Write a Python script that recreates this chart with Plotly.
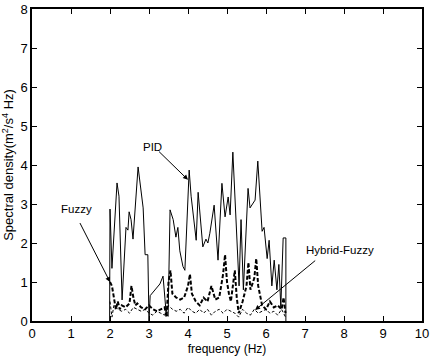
import plotly.graph_objects as go

# PID (solid)
pid_x = [1.99, 2.0, 2.05, 2.18, 2.23, 2.31, 2.41, 2.46, 2.49, 2.54, 2.59, 2.72, 2.85, 2.9, 2.97, 3.0,
         3.0, 3.03, 3.15, 3.28, 3.36, 3.44, 3.49, 3.54, 3.62, 3.69, 3.74, 3.79, 3.87, 3.92, 4.03, 4.08,
         4.21, 4.26, 4.38, 4.46, 4.51, 4.56, 4.67, 4.77, 4.87, 4.95, 5.03, 5.08, 5.15, 5.31, 5.36, 5.42,
         5.54, 5.59, 5.72, 5.79, 5.9, 5.95, 6.03, 6.08, 6.15, 6.21, 6.28, 6.33, 6.38, 6.44, 6.51, 6.51]
pid_y = [0.0, 2.87, 1.35, 3.54, 3.2, 0.54, 2.4, 2.33, 2.8, 2.6, 2.1, 3.95, 2.9, 1.7, 1.7, 0.0,
         0.0, 0.65, 0.8, 0.95, 1.15, 0.2, 0.12, 2.85, 2.6, 2.15, 2.4, 1.8, 1.4, 1.3, 3.87, 3.2,
         2.07, 3.3, 1.9, 2.1, 2.0, 2.25, 2.97, 1.56, 3.53, 2.67, 3.18, 2.72, 4.33, 0.9, 2.6, 0.8,
         3.4, 2.9, 3.1, 4.1, 2.3, 2.4, 1.6, 2.07, 0.9, 1.56, 0.8, 1.45, 0.36, 2.13, 2.13, 0.0]

# Fuzzy (thick dashed)
fz_x = [2.0, 2.05, 2.1, 2.15, 2.2, 2.25, 2.3, 2.4, 2.5, 2.55, 2.6, 2.65, 2.7, 2.8, 2.9, 3.0, 3.1,
        3.2, 3.3, 3.4, 3.45, 3.5, 3.55, 3.6, 3.7, 3.8, 3.9, 4.0, 4.05, 4.1, 4.2, 4.3, 4.4, 4.5, 4.6,
        4.65, 4.7, 4.8, 4.9, 4.95, 5.0, 5.05, 5.1, 5.2, 5.25, 5.3, 5.4, 5.5, 5.55, 5.6, 5.7, 5.75,
        5.8, 5.9, 6.0, 6.1, 6.2, 6.3, 6.4, 6.45, 6.5]
fz_y = [1.0, 0.9, 0.6, 0.3, 0.5, 0.3, 0.4, 0.35, 0.45, 0.9, 0.6, 0.4, 0.45, 0.35, 0.3, 0.4, 0.3,
        0.25, 0.3, 0.35, 0.1, 1.0, 1.3, 0.7, 0.6, 0.55, 0.6, 0.9, 1.2, 0.7, 0.5, 0.4, 0.6, 0.5, 0.9,
        0.7, 0.55, 0.6, 1.2, 1.7, 1.0, 0.7, 0.5, 1.3, 0.6, 0.2, 0.5, 0.9, 1.5, 0.8, 1.1, 1.6,
        0.9, 0.4, 0.3, 0.5, 0.35, 0.4, 0.3, 0.6, 0.2]

# Hybrid-Fuzzy (thin dashed)
hf_x = [2.0, 2.05, 2.1, 2.2, 2.3, 2.4, 2.5, 2.6, 2.7, 2.8, 2.9, 3.0, 3.1, 3.2, 3.3, 3.4, 3.5, 3.6,
        3.7, 3.8, 3.9, 4.0, 4.1, 4.2, 4.3, 4.4, 4.5, 4.6, 4.7, 4.8, 4.9, 5.0, 5.1, 5.2, 5.3, 5.4,
        5.5, 5.6, 5.7, 5.8, 5.9, 6.0, 6.1, 6.2, 6.3, 6.4, 6.5]
hf_y = [0.5, 0.1, 0.4, 0.3, 0.25, 0.3, 0.2, 0.35, 0.3, 0.25, 0.3, 0.2, 0.15, 0.25, 0.2, 0.15, 0.4, 0.3,
        0.25, 0.3, 0.2, 0.35, 0.25, 0.2, 0.3, 0.2, 0.3, 0.15, 0.25, 0.3, 0.2, 0.3, 0.25, 0.2, 0.1, 0.3,
        0.2, 0.15, 0.3, 0.2, 0.25, 0.3, 0.2, 0.25, 0.15, 0.3, 0.1]

x_ticks = list(range(0, 11))
y_ticks = list(range(0, 9))

fig = go.Figure()
fig.add_trace(go.Scatter(x=hf_x, y=hf_y, mode="lines", line=dict(color="black", width=1, dash="3px,2px"),
                         name="Hybrid-Fuzzy"))
fig.add_trace(go.Scatter(x=fz_x, y=fz_y, mode="lines", line=dict(color="black", width=2, dash="4px,2px"),
                         name="Fuzzy"))
fig.add_trace(go.Scatter(x=pid_x, y=pid_y, mode="lines", line=dict(color="black", width=1),
                         name="PID"))

family = "Liberation Sans, Arial, sans-serif"
font = dict(family=family, size=13, color="black")
afont = dict(family=family, size=11.5, color="black")
arrow = dict(showarrow=True, arrowhead=2, arrowsize=1, arrowwidth=1, arrowcolor="black",
             axref="x", ayref="y", xref="x", yref="y")
fig.add_annotation(x=4.0, y=3.62, ax=3.22, ay=4.38, text="", **arrow)
fig.add_annotation(x=3.1, y=4.46, text="PID", showarrow=False, font=afont)
fig.add_annotation(x=2.0, y=1.0, ax=1.21, ay=2.55, text="", **arrow)
fig.add_annotation(x=1.13, y=2.87, text="Fuzzy", showarrow=False, font=afont)
fig.add_annotation(x=5.72, y=0.28, ax=7.3, ay=1.58, text="", **arrow)
fig.add_annotation(x=7.9, y=1.82, text="Hybrid-Fuzzy", showarrow=False, font=afont)

axis_common = dict(showline=True, linecolor="black", linewidth=1.5, mirror="ticks", ticks="inside",
                   ticklen=5, tickcolor="black", showgrid=False, zeroline=False, tickfont=font,
                   automargin=False)
fig.update_xaxes(range=[0, 10], tickvals=x_ticks,
                 title=dict(text="frequency (Hz)", font=dict(family=family, size=12, color="black"), standoff=4),
                 **axis_common)
fig.update_yaxes(range=[0, 8], tickvals=y_ticks,
                 title=dict(text="Spectral density(m<sup>2</sup>/s<sup>4</sup> Hz)",
                            font=dict(family=family, size=13, color="black"), standoff=4),
                 **axis_common)
fig.update_layout(width=446, height=358, margin=dict(l=32, r=24, t=9, b=37),
                  paper_bgcolor="white", plot_bgcolor="white", showlegend=False, font=font)
fig.write_html("out.html")
